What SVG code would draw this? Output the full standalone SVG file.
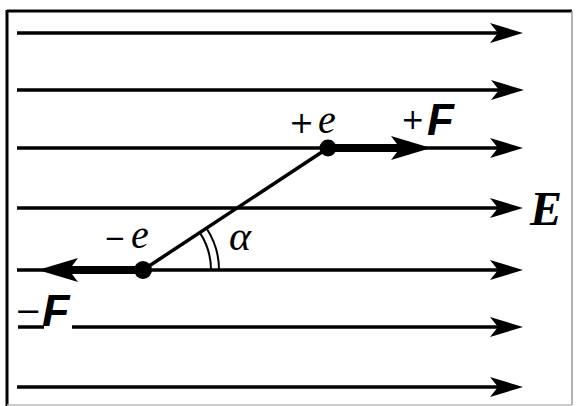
<svg xmlns="http://www.w3.org/2000/svg" xmlns:xlink="http://www.w3.org/1999/xlink" width="576" height="406" viewBox="0 0 576 406">
  <style>
    .fl { stroke:#000; stroke-width:3.5; fill:none; }
    .thick { stroke:#000; stroke-width:8; fill:none; }
    .rod { stroke:#000; stroke-width:3.5; fill:none; }
    .arc { stroke:#000; stroke-width:2; fill:none; }
    .hd { fill:#000; }
    .serif { font-family:"Liberation Serif","Times New Roman",serif; fill:#000; }
    .sans { font-family:"Liberation Sans",Arial,sans-serif; fill:#000; }
    .sym { font-family:"DejaVu Sans",sans-serif; fill:#000; }
  </style>
  <defs>
    <path id="head" d="M0,0 L-33,-10 L-25,0 L-33,10 Z"/>
    <path id="headF" d="M0,0 L-40,-12 L-31,0 L-40,12 Z"/>
  </defs>
  <rect x="0" y="0" width="576" height="406" fill="#fff"/>
  <g id="frame">
    <line x1="7" y1="11" x2="572" y2="11" stroke="#000" stroke-width="3"/>
    <line x1="7" y1="10" x2="7" y2="406" stroke="#000" stroke-width="3"/>
    <line x1="572" y1="11" x2="572" y2="405" stroke="#999" stroke-width="1.5"/>
    <line x1="7" y1="405" x2="572" y2="405" stroke="#bbb" stroke-width="1.5"/>
  </g>
  <g id="connectors">
    <g id="field-lines">
      <line class="fl" x1="17" y1="33" x2="500" y2="33"/>
      <use xlink:href="#head" class="hd" transform="translate(523,33)"/>
      <line class="fl" x1="17" y1="90" x2="500" y2="90"/>
      <use xlink:href="#head" class="hd" transform="translate(524,90)"/>
      <line class="fl" x1="17" y1="148" x2="500" y2="148"/>
      <use xlink:href="#head" class="hd" transform="translate(523,148)"/>
      <line class="fl" x1="17" y1="208" x2="500" y2="208"/>
      <use xlink:href="#head" class="hd" transform="translate(523,208)"/>
      <line class="fl" x1="17" y1="270" x2="500" y2="270"/>
      <use xlink:href="#head" class="hd" transform="translate(523,270)"/>
      <line class="fl" x1="18" y1="327" x2="44" y2="327"/>
      <line class="fl" x1="72" y1="327" x2="500" y2="327"/>
      <use xlink:href="#head" class="hd" transform="translate(523,327)"/>
      <line class="fl" x1="17" y1="387" x2="500" y2="387"/>
      <use xlink:href="#head" class="hd" transform="translate(523,387)"/>
    </g>
    <g id="dipole-rod">
      <line class="rod" x1="143" y1="270" x2="328" y2="148"/>
      <path class="arc" d="M211,270 A68,68 0 0 0 199.8,232.6"/>
      <path class="arc" d="M219,270 A76,76 0 0 0 206.5,228.2"/>
    </g>
    <g id="force-plus">
      <line class="thick" x1="328" y1="148" x2="402" y2="148"/>
      <use xlink:href="#headF" class="hd" transform="translate(431,148)"/>
    </g>
    <g id="force-minus">
      <line class="thick" x1="143" y1="270" x2="68" y2="270"/>
      <use xlink:href="#headF" class="hd" transform="translate(38,270) scale(-1,1)"/>
    </g>
  </g>
  <g id="charge-plus">
    <circle cx="328" cy="148" r="8.5" fill="#000"/>
    <text class="sym" x="289" y="133" font-size="30">+</text>
    <text class="serif" x="318" y="133" font-size="40" font-style="italic">e</text>
  </g>
  <g id="charge-minus">
    <circle cx="143" cy="270" r="9" fill="#000"/>
    <text class="sym" x="104" y="247" font-size="26">−</text>
    <text class="serif" x="131" y="248" font-size="40" font-style="italic">e</text>
  </g>
  <g id="label-alpha">
    <text class="serif" x="229" y="250" font-size="42" font-style="italic">α</text>
  </g>
  <g id="label-plusF">
    <text class="sym" x="401" y="129" font-size="28">+</text>
    <text class="sans" x="427" y="135" font-size="44" font-weight="bold" font-style="italic">F</text>
  </g>
  <g id="label-minusF">
    <text class="sym" x="15" y="322" font-size="32">−</text>
    <text class="sans" x="42" y="326" font-size="45" font-weight="bold" font-style="italic">F</text>
  </g>
  <g id="label-E">
    <text class="serif" x="530" y="225" font-size="48" font-weight="bold" font-style="italic">E</text>
  </g>
</svg>
